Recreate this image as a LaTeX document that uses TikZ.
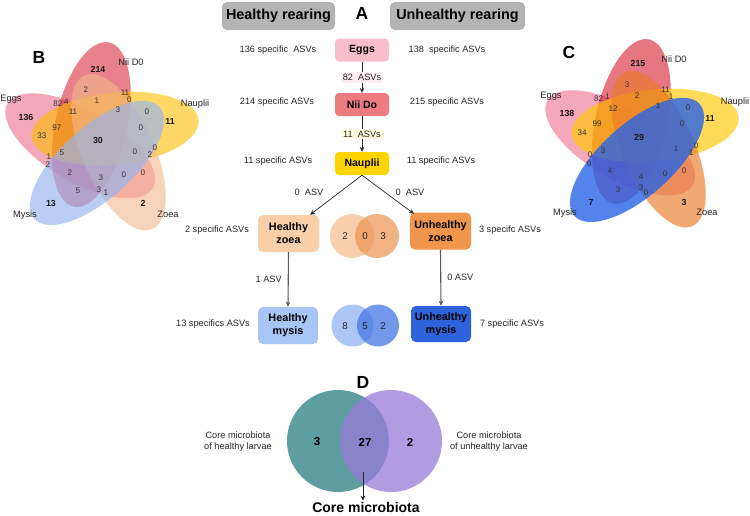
\documentclass[tikz,border=0pt]{standalone}
\usepackage{fontspec}
\setmainfont{Liberation Sans}
\usetikzlibrary{calc,arrows.meta}
\definecolor{hdrgray}{RGB}{180,180,180}
\definecolor{eggbox}{RGB}{249,190,203}
\definecolor{niibox}{RGB}{236,124,128}
\definecolor{naubox}{RGB}{255,212,0}
\definecolor{hzbox}{RGB}{248,207,168}
\definecolor{uzbox}{RGB}{240,149,76}
\definecolor{hmbox}{RGB}{168,197,247}
\definecolor{umbox}{RGB}{47,99,219}
\definecolor{eggsB}{RGB}{236,109,141}
\definecolor{niiB}{RGB}{218,45,60}
\definecolor{naupB}{RGB}{252,190,0}
\definecolor{zoeaB}{RGB}{243,183,140}
\definecolor{mysB}{RGB}{150,180,240}
\definecolor{eggsC}{RGB}{240,121,152}
\definecolor{niiC}{RGB}{218,45,60}
\definecolor{naupC}{RGB}{255,200,0}
\definecolor{zoeaC}{RGB}{232,124,40}
\definecolor{mysC}{RGB}{40,100,230}
\definecolor{teal1}{RGB}{95,158,160}
\definecolor{purp1}{RGB}{152,122,215}
\newcommand\myvenn[8]{%
  \foreach \t/\col/\op in {162/#2/#7, 90/#3/#7, 18/#4/#7, -54/#5/#7, -126/#6/#8}{%
    \path ($(#1)+({\t+26.4}:20.4pt)$) coordinate (ec);
    \begin{scope}[shift={(ec)}, rotate=\t-12.2]
      \fill[fill=\col, fill opacity=\op] (0,0) ellipse [x radius=84pt, y radius=36pt];
    \end{scope}
  }}
\begin{document}
\begin{tikzpicture}[x=1pt,y=-1pt,
  lab/.style={font=\fontsize{9.2}{11}\selectfont, text=black!85, inner sep=1pt},
  vn/.style={font=\fontsize{8.1}{9}\selectfont, text=black!80, inner sep=0pt},
  vb/.style={font=\bfseries\fontsize{8.8}{9}\selectfont, text=black!90, inner sep=0pt},
  setlab/.style={font=\fontsize{9.3}{11}\selectfont, text=black!85, inner sep=0pt},
  hdr/.style={fill=hdrgray, rounded corners=5pt, font=\bfseries\fontsize{14.4}{16}\selectfont, minimum height=28pt, inner sep=0pt},
  stage/.style={rounded corners=4pt, font=\bfseries\fontsize{10.5}{12}\selectfont, minimum width=54pt, minimum height=23pt, inner sep=0pt, align=center},
  big/.style={rounded corners=5pt, font=\bfseries\fontsize{10.8}{13}\selectfont, minimum width=61pt, minimum height=37pt, inner sep=0pt, align=center},
  arr/.style={-{Stealth[length=5pt,width=4.5pt]}, line width=0.7pt, black!85},
  garr/.style={-{Stealth[length=5pt,width=4.5pt]}, line width=1.1pt, black!65},
  letter/.style={font=\bfseries\fontsize{17.5}{19}\selectfont, inner sep=0pt},
  svn/.style={font=\fontsize{9.8}{11}\selectfont, text=black!85, inner sep=0pt},
  dn/.style={font=\bfseries\fontsize{11.5}{13}\selectfont, inner sep=0pt}
]
\useasboundingbox[fill=white] (0,0) rectangle (750,515);

% ---------- Panel A ----------
\node[hdr, minimum width=113pt] (hh) at (278.5,16) {Healthy rearing};
\node[hdr, minimum width=135pt] (uh) at (457.5,16) {Unhealthy rearing};
\node[letter] (lA) at (362,13) {A};

\node[stage, fill=eggbox] (eggs) at (362,50) {Eggs};
\node[stage, fill=niibox] (nii) at (362,104.5) {Nii Do};
\node[stage, fill=naubox] (nau) at (362,163.5) {Nauplii};
\node[big, fill=hzbox] (hz) at (288.5,233.5) {Healthy\\zoea};
\node[big, fill=uzbox] (uz) at (440.5,231) {Unhealthy\\zoea};
\node[big, fill=hmbox, minimum width=60pt] (hm) at (288,325.5) {Healthy\\mysis};
\node[big, fill=umbox, minimum width=60pt, minimum height=36pt] (um) at (441,324) {Unhealthy\\mysis};

\draw[arr] (eggs.south) -- node[lab, fill={rgb,255:red,252;green,238;blue,242}, inner sep=2pt] {82\ \ ASVs} (nii.north);
\draw[arr] (nii.south) -- node[lab, fill={rgb,255:red,255;green,251;blue,222}, inner sep=2pt] {11\ \ ASVs} (nau.north);
\draw[arr] (nau.south) -- ($(hz.north)+(21.5,0)$);
\draw[arr] (nau.south) -- ($(uz.north)+(-26.5,1.5)$);
\node[lab] (a0l) at (309,192) {0\ \ ASV};
\node[lab] (a0r) at (410,192) {0\ \ ASV};
\draw[garr] (hz.south) -- node[lab, left=5pt] {1 ASV} (hm.north);
\draw[garr] (uz.south) -- node[lab, right=5pt] {0 ASV} (um.north);

\node[lab] (l1) at (278,50) {136 specific\ \ ASVs};
\node[lab] (l2) at (277,102) {214 specific ASVs};
\node[lab] (l3) at (278,161) {11 specific ASVs};
\node[lab] (l4) at (217,230) {2 specific ASVs};
\node[lab] (l5) at (213,324) {13 specifics ASVs};
\node[lab] (r1) at (447,50) {138\ \ specific ASVs};
\node[lab] (r2) at (447,102) {215 specific ASVs};
\node[lab] (r3) at (441,161) {11 specific ASVs};
\node[lab] (r4) at (510,230) {3 specifc ASVs};
\node[lab] (r5) at (512,324) {7 specific ASVs};

% small Venns
\fill[fill={rgb,255:red,247;green,207;blue,172}] (352,236) circle (22);
\fill[fill={rgb,255:red,236;green,146;blue,80}, fill opacity=0.7] (377,236) circle (22);
\node[svn] (z1) at (345,236) {2};
\node[svn] (z2) at (365,236) {0};
\node[svn] (z3) at (383,236) {3};
\fill[fill={rgb,255:red,172;green,198;blue,246}] (352.5,325.5) circle (21);
\fill[fill={rgb,255:red,70;green,118;blue,228}, fill opacity=0.75] (378,325.5) circle (21);
\node[svn] (m1) at (345,326) {8};
\node[svn] (m2) at (365,326) {5};
\node[svn] (m3) at (383,326) {2};

% ---------- Panel B ----------
\coordinate (OB) at (100.4,142.8);
\myvenn{OB}{eggsB}{niiB}{naupB}{zoeaB}{mysB}{0.6}{0.65}
\node[letter] (lB) at (39,57) {B};
\node[setlab] (bs1) at (131,62) {Nii D0};
\node[setlab] (bs2) at (11,99) {Eggs};
\node[setlab] (bs3) at (195,104) {Nauplii};
\node[setlab] (bs4) at (25,215) {Mysis};
\node[setlab] (bs5) at (168,214) {Zoea};
\foreach \x/\y/\t in {86/90/2, 58/104/82, 66.5/102/4, 97/101/1, 125/92.5/11, 129.5/100/0,
  73/112/11, 118/110/3, 147/112/0, 57/128/97, 42/136/33, 141/128/0,
  62/153/5, 49/156.5/1, 48/165/2, 135/152/0, 155/148/0, 150/155/2, 70/173/2, 101/178/3,
  124/175/0, 143/173/0, 78/191/5, 99/190/3, 106/193/1}
  \node[vn] at (\x,\y) {\t};
\foreach \x/\y/\t in {98/69/214, 26/117/136, 170/121/11, 98/140/30, 51/203/13, 143/203/2}
  \node[vb] at (\x,\y) {\t};

% ---------- Panel C ----------
\coordinate (OC) at (640.4,139.8);
\myvenn{OC}{eggsC}{niiC}{naupC}{zoeaC}{mysC}{0.65}{0.8}
\node[letter] (lC) at (569,52) {C};
\node[setlab] (cs1) at (674,59) {Nii D0};
\node[setlab] (cs2) at (551,96) {Eggs};
\node[setlab] (cs3) at (735,102) {Nauplii};
\node[setlab] (cs4) at (565,213) {Mysis};
\node[setlab] (cs5) at (707,212) {Zoea};
\foreach \x/\y/\t in {627/85/3, 598.5/99/82, 607.5/97/1, 637/96/2, 665.5/89.5/11, 671/97/1,
  613/109/12, 658/106/1, 688/108/0, 597/124/99, 582/133/34, 682/124/0,
  603/151/3, 590/154.5/0, 589/163.5/0, 676/149/1, 696/146/0, 691/153/1, 610/171/4, 641/177/4,
  665/174/0, 684/171/0, 618/190/3, 641/188/3, 646/193/0}
  \node[vn] at (\x,\y) {\t};
\foreach \x/\y/\t in {638/63/215, 567/113/138, 710/118/11, 639/137/29, 591/202/7, 684/202/3}
  \node[vb] at (\x,\y) {\t};

% ---------- Panel D ----------
\node[letter] (lD) at (363,382) {D};
\fill[fill=teal1] (338,441) circle (51);
\fill[fill=purp1, fill opacity=0.75] (391,441) circle (51);
\node[dn] (d1) at (317,442) {3};
\node[dn] (d2) at (365,442) {27};
\node[dn] (d3) at (410,442) {2};
\node[lab, align=center] (dl) at (238,442) {Core microbiota\\of healthy larvae};
\node[lab, align=center] (dr) at (489,442) {Core microbiota\\of unhealthy larvae};
\node[font=\bfseries\fontsize{14}{16}\selectfont, inner sep=1pt] (core) at (366,507) {Core microbiota};
\coordinate (ctop) at (363,472);
\draw[arr] (ctop) -- (ctop |- core.north);
\end{tikzpicture}
\end{document}
